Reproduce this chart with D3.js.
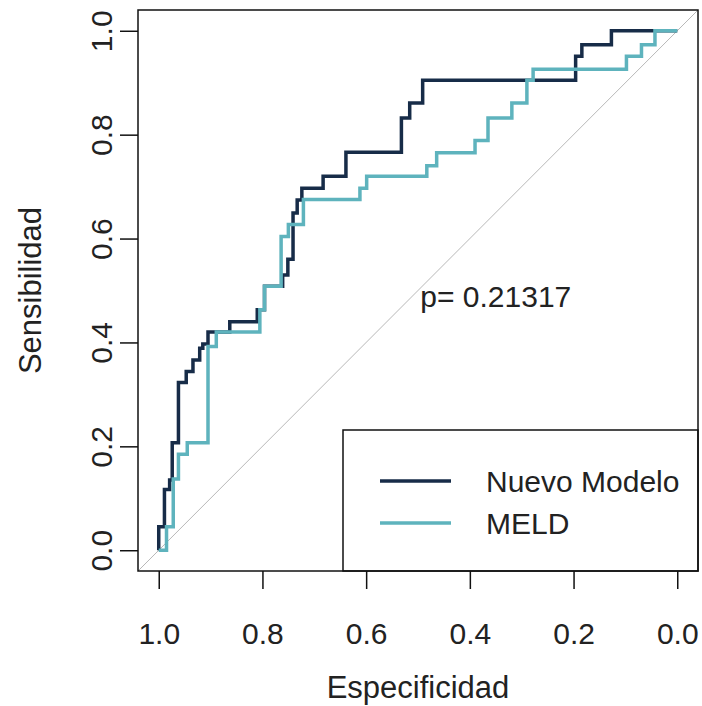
<!DOCTYPE html>
<html>
<head>
<meta charset="utf-8">
<script src="https://cdn.jsdelivr.net/npm/d3@7"></script>
<style>
  body { margin: 0; background: #fff; }
  svg text { font-family: "Liberation Sans", Arial, sans-serif; fill: #222; }
</style>
</head>
<body>
<svg id="roc" width="702" height="706"></svg>
<script>
// ROC points (specificity, sensitivity reached at that specificity)
var nuevoSpec = [1.0, 1.0, 0.989, 0.979, 0.974, 0.962, 0.947, 0.934, 0.921, 0.915, 0.905, 0.863, 0.810, 0.796, 0.761, 0.751, 0.741, 0.733, 0.724, 0.683, 0.639, 0.532, 0.516, 0.491, 0.196, 0.184, 0.127, 0.0];
var nuevoSens = [0.0, 0.045, 0.117, 0.135, 0.207, 0.323, 0.344, 0.366, 0.389, 0.397, 0.420, 0.440, 0.463, 0.508, 0.530, 0.560, 0.649, 0.674, 0.697, 0.720, 0.766, 0.832, 0.861, 0.905, 0.951, 0.973, 1.0, 1.0];

var meldSpec = [1.0, 0.985, 0.972, 0.962, 0.945, 0.905, 0.889, 0.805, 0.796, 0.764, 0.750, 0.721, 0.612, 0.599, 0.483, 0.464, 0.390, 0.365, 0.319, 0.290, 0.278, 0.098, 0.069, 0.043, 0.0];
var meldSens = [0.0, 0.045, 0.137, 0.185, 0.207, 0.392, 0.420, 0.463, 0.508, 0.604, 0.627, 0.675, 0.697, 0.720, 0.740, 0.765, 0.789, 0.832, 0.861, 0.905, 0.926, 0.951, 0.973, 1.0, 1.0];

var tickVals = [1.0, 0.8, 0.6, 0.4, 0.2, 0.0];
var seriesNames = ["Nuevo Modelo", "MELD"];
var seriesColors = ["#172c48", "#5eb3bd"];
var pLabel = "p= 0.21317";
var pPos = [0.35, 0.488];

var svg = d3.select("#roc");
var pl = 138, pr = 698, pt = 10, pb = 571;

var x = d3.scaleLinear().domain([1.04, -0.04]).range([pl, pr]);
var y = d3.scaleLinear().domain([-0.04, 1.04]).range([pb, pt]);

svg.append("defs").append("clipPath").attr("id", "plotclip")
  .append("rect").attr("x", pl).attr("y", pt)
  .attr("width", pr - pl).attr("height", pb - pt);

// chance diagonal
svg.append("line")
  .attr("clip-path", "url(#plotclip)")
  .attr("x1", x(1.04)).attr("y1", y(-0.04))
  .attr("x2", x(-0.04)).attr("y2", y(1.04))
  .attr("stroke", "#b8b8b8").attr("stroke-width", 1);

// step: move along specificity first, then jump in sensitivity
var line = d3.line()
  .x(function(d) { return x(d[0]); })
  .y(function(d) { return y(d[1]); })
  .curve(d3.curveStepAfter);

var curves = [d3.zip(nuevoSpec, nuevoSens), d3.zip(meldSpec, meldSens)];
curves.forEach(function(pts, i) {
  svg.append("path")
    .datum(pts)
    .attr("d", line)
    .attr("fill", "none")
    .attr("stroke", seriesColors[i])
    .attr("stroke-width", 3.5)
    .attr("stroke-linejoin", "miter");
});

svg.append("text")
  .attr("x", x(pPos[0])).attr("y", y(pPos[1]))
  .attr("dy", "0.35em")
  .attr("text-anchor", "middle")
  .style("font-size", "30px")
  .text(pLabel);

// legend, bottom right
var lg = svg.append("g");
lg.append("rect")
  .attr("x", 343).attr("y", 430)
  .attr("width", pr - 343).attr("height", pb - 430)
  .attr("fill", "#fff").attr("stroke", "#111").attr("stroke-width", 1.5);
seriesNames.forEach(function(name, i) {
  var ly = 481 + i * 42;
  lg.append("line")
    .attr("x1", 380).attr("x2", 451).attr("y1", ly).attr("y2", ly)
    .attr("stroke", seriesColors[i]).attr("stroke-width", 3.5);
  lg.append("text")
    .attr("x", 486).attr("y", ly).attr("dy", "0.35em")
    .style("font-size", "30px")
    .text(name);
});

// axes
var xAxis = svg.append("g")
  .attr("transform", "translate(0," + pb + ")")
  .call(d3.axisBottom(x).tickValues(tickVals).tickFormat(d3.format(".1f"))
    .tickSize(18).tickPadding(34));
xAxis.select(".domain").remove();
xAxis.selectAll("line").attr("stroke", "#111").attr("stroke-width", 1.5);
xAxis.selectAll("text").style("font-size", "30px").attr("fill", "#222");

var yAxis = svg.append("g")
  .attr("transform", "translate(" + pl + ",0)")
  .call(d3.axisLeft(y).tickValues(tickVals).tickFormat(d3.format(".1f")).tickSize(18));
yAxis.select(".domain").remove();
yAxis.selectAll("line").attr("stroke", "#111").attr("stroke-width", 1.5);
yAxis.selectAll("text")
  .attr("x", null).attr("dy", null)
  .attr("text-anchor", "middle")
  .attr("transform", "translate(-26,0) rotate(-90)")
  .style("font-size", "30px").attr("fill", "#222");

// frame
svg.append("rect")
  .attr("x", pl).attr("y", pt)
  .attr("width", pr - pl).attr("height", pb - pt)
  .attr("fill", "none").attr("stroke", "#111").attr("stroke-width", 1.5);

svg.append("text")
  .attr("x", (pl + pr) / 2).attr("y", 698)
  .attr("text-anchor", "middle")
  .style("font-size", "31px")
  .text("Especificidad");

svg.append("text")
  .attr("transform", "translate(41," + (pt + pb) / 2 + ") rotate(-90)")
  .attr("text-anchor", "middle")
  .style("font-size", "31px")
  .text("Sensibilidad");
</script>
</body>
</html>
